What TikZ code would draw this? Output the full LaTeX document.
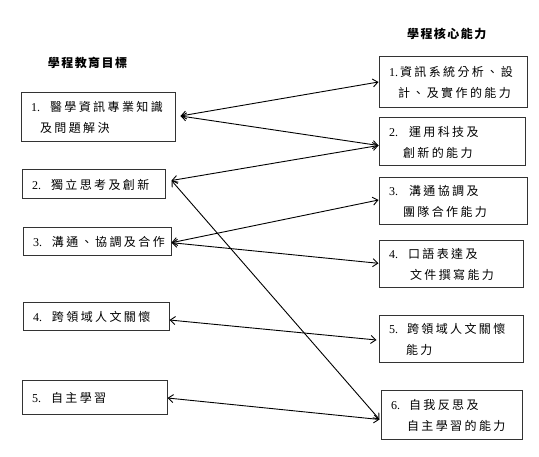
\documentclass[tikz,border=0pt]{standalone}
\usepackage{fontspec}
\setmainfont{Liberation Serif}
\newfontfamily\cjk[LetterSpace=20]{Noto Sans CJK TC}
\newfontfamily\cjkt[LetterSpace=12]{Noto Sans CJK TC}
\usetikzlibrary{arrows.meta}
\newcommand\nb[2]{{\rmfamily #1}\kern#2pt\relax}
\tikzset{
  box/.style={draw=black!80, line width=1pt, rectangle, inner xsep=10pt, inner ysep=0pt,
    align=left, font=\fontsize{12}{21}\selectfont\cjk},
  arr/.style={{Straight Barb[length=5pt,width=8pt]}-{Straight Barb[length=5pt,width=8pt]}, line width=0.9pt},
  titletext/.style={font=\fontsize{12}{14}\selectfont\cjkt\bfseries}
}
\begin{document}
\begin{tikzpicture}[x=1pt,y=-1pt]
\useasboundingbox[fill=white] (0,0) rectangle (539,457);
% titles
\node[titletext] (T1) at (87.5,63) {學程教育目標};
\node[titletext] (T2) at (446.7,34) {學程核心能力};
% left boxes
\node[box, text width=134pt, minimum height=49pt] (L1) at (98,117.5) {\nb{1.}{10}醫學資訊專業知識\\\hspace*{9pt}及問題解決};
\node[box, text width=123pt, minimum height=29pt] (L2) at (93.5,184.5) {\nb{2.}{10}獨立思考及創新};
\node[box, text width=128pt, minimum height=28pt] (L3) at (97,242) {\nb{3.}{10}溝通、協調及合作};
\node[box, text width=126pt, minimum height=28pt] (L4) at (96,317) {\nb{4.}{10}跨領域人文關懷};
\node[box, text width=125pt, minimum height=34pt] (L5) at (94.5,398) {\nb{5.}{10}自主學習};
% right boxes
\node[box, text width=128pt, minimum height=51pt] (R1) at (453,82.5) {\nb{1.}{2}資訊系統分析、設\\\hspace*{9pt}計、及實作的能力};
\node[box, text width=126pt, minimum height=48pt] (R2) at (452,142) {\nb{2.}{11}運用科技及\\\hspace*{14pt}創新的能力};
\node[box, text width=128pt, minimum height=47pt] (R3) at (453,201.5) {\nb{3.}{11}溝通協調及\\\hspace*{14pt}團隊合作能力};
\node[box, text width=124pt, minimum height=47pt] (R4) at (451,264.5) {\nb{4.}{10}口語表達及\\\hspace*{21pt}文件撰寫能力};
\node[box, text width=124pt, minimum height=47pt] (R5) at (451,339.5) {\nb{5.}{9}跨領域人文關懷\\\hspace*{17pt}能力};
\node[box, text width=121pt, minimum height=49pt] (R6) at (451.5,415.5) {\nb{6.}{9}自我反思及\\\hspace*{16pt}自主學習的能力};
% connectors
\draw[arr] ([xshift=5pt,yshift=1.5pt]L1.east) -- ([yshift=0.5pt]R1.west);
\draw[arr] ([xshift=5pt,yshift=1.5pt]L1.east) -- ([yshift=-3.5pt]R2.west);
\draw[arr] ([xshift=6pt,yshift=4pt]L2.east) -- ([yshift=-3.5pt]R2.west);
\draw[arr] ([xshift=6pt,yshift=4pt]L2.east) -- ([xshift=-1pt,yshift=-4pt]R6.west);
\draw[arr] ([yshift=-0.7pt]L3.east) -- ([yshift=1.5pt]R3.west);
\draw[arr] ([yshift=-0.7pt]L3.east) -- ([yshift=1.2pt]R4.west);
\draw[arr] ([yshift=-3pt]L4.east) -- ([xshift=-2pt,yshift=-0.5pt]R5.west);
\draw[arr] (L5.east) -- ([xshift=-1pt,yshift=-4pt]R6.west);
\end{tikzpicture}
\end{document}
